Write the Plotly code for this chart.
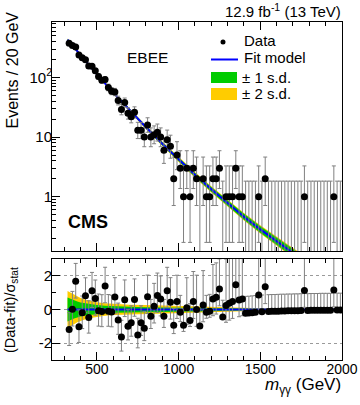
import math
import plotly.graph_objects as go

# ---------------- data ----------------
mass = list(range(330, 2000, 20))  # 20 GeV bin centres, 320-2000 GeV

counts = [374, 343, 323, 237, 215, 199, 156, 154, 129, 104,
          90, 92, 68, 59, 57, 41, 29, 38, 25, 22,
          26, 13, 13, 10, 16, 10, 11, 12, 10, 6,
          9, 7, 2, 5, 3, 1, 3, 1, 3, 2,
          0, 2, 1, 1, 2, 2, 3, 0, 1, 1,
          1, 3, 1, 1, 0, 0, 0, 0, 1, 0,
          2, 0, 0, 0, 0, 0, 0, 0, 0, 0,
          0, 0, 1, 0, 0, 0, 0, 0, 0, 0,
          0, 1, 0, 0]

pulls = [-1.19, 0.02, 1.68, -1.02, -0.20, 0.81, -0.48, 1.12, 0.66, -0.08,
         -0.12, 1.40, -0.11, -0.15, 0.75, -0.62, -1.64, 0.58, -0.99, -0.78,
         0.60, -1.52, -0.78, -1.12, 0.76, -0.40, 0.20, 0.83, 0.62, -0.40,
         1.11, 0.43, -0.94, 0.47, -0.16, -0.94, 0.10, -0.65, 0.47, 0.00,
         -0.98, 0.27, -0.16, -0.10, 0.63, 0.73, 1.22, -0.45, 0.24, 0.37,
         0.47, 1.47, 0.57, 0.63, -0.22, -0.21, -0.19, -0.17, 0.86, -0.14,
         1.35, -0.12, -0.11, -0.11, -0.10, -0.09, -0.09, -0.08, -0.08, -0.07,
         -0.07, -0.06, 1.13, -0.06, -0.05, -0.05, -0.05, -0.04, -0.04, -0.04,
         -0.04, 1.16, -0.03, -0.03]

fit_mass = [320, 400, 500, 600, 700, 800, 900, 1000, 1100, 1200,
            1300, 1400, 1500, 1600, 1700, 1800, 1900, 2000]
fit_vals = [430, 236, 113, 55.8, 28.2, 14.6, 7.73, 4.20, 2.33, 1.33,
            0.774, 0.462, 0.283, 0.177, 0.114, 0.075, 0.050, 0.035]
# half widths of the fit bands in the upper panel (decades)
fit_band1 = [0.012, 0.012, 0.014, 0.016, 0.020, 0.024, 0.028, 0.032, 0.036, 0.040,
             0.045, 0.050, 0.055, 0.060, 0.065, 0.070, 0.075, 0.080]
fit_band2 = [0.018, 0.018, 0.020, 0.022, 0.027, 0.032, 0.037, 0.042, 0.047, 0.052,
             0.058, 0.064, 0.070, 0.076, 0.082, 0.088, 0.094, 0.100]

# fit bands in the pull panel (units of sigma_stat)
band_mass = [320, 340, 360, 380, 400, 430, 460, 500, 550, 600, 700,
             800, 900, 1000, 1100, 1200, 1300, 1400, 1500, 1700, 2000]
pull_band2 = [1.10, 1.00, 0.88, 0.76, 0.68, 0.58, 0.50, 0.43, 0.37, 0.33, 0.28,
              0.26, 0.24, 0.22, 0.19, 0.16, 0.13, 0.10, 0.07, 0.05, 0.04]
pull_band1 = [0.72, 0.62, 0.54, 0.47, 0.42, 0.36, 0.31, 0.26, 0.22, 0.19, 0.16,
              0.14, 0.13, 0.12, 0.11, 0.10, 0.08, 0.06, 0.04, 0.03, 0.02]

x_ticks = [500, 1000, 1500, 2000]

# ---------------- helpers ----------------
def pois_lo(n):
    if n == 0:
        return 0.0
    return n - n * (1 - 1 / (9 * n) - 1 / (3 * math.sqrt(n))) ** 3


def pois_hi(n):
    m = n + 1
    return m * (1 - 1 / (9 * m) + 1 / (3 * math.sqrt(m))) ** 3 - n


W, H = 360, 405
ML, MR, MT, MB = 52, 18, 22, 45
PW, PH = W - ML - MR, H - MT - MB


def px2x(px):
    return (px - ML) / PW


def py2y(py):
    return (H - MB - py) / PH


GREEN = "#00cc00"
YELLOW = "#ffcc00"
BLUE = "#0000ff"
ERRC = "#808080"
FONT = "Liberation Sans, Arial, Helvetica, sans-serif"

fig = go.Figure()


def band_poly(xs, centre, hw, log=True):
    if log:
        up = [c * 10 ** w for c, w in zip(centre, hw)]
        dn = [c * 10 ** (-w) for c, w in zip(centre, hw)]
    else:
        up = [c + w for c, w in zip(centre, hw)]
        dn = [c - w for c, w in zip(centre, hw)]
    return xs + xs[::-1], up + dn[::-1]


# ---------------- upper panel ----------------
bx, by = band_poly(fit_mass, fit_vals, fit_band2)
fig.add_trace(go.Scatter(x=bx, y=by, fill="toself", fillcolor=YELLOW, line=dict(width=0),
                         mode="lines", xaxis="x", yaxis="y", hoverinfo="skip"))
bx, by = band_poly(fit_mass, fit_vals, fit_band1)
fig.add_trace(go.Scatter(x=bx, y=by, fill="toself", fillcolor=GREEN, line=dict(width=0),
                         mode="lines", xaxis="x", yaxis="y", hoverinfo="skip"))
fig.add_trace(go.Scatter(x=fit_mass, y=fit_vals, mode="lines", line=dict(color=BLUE, width=2),
                         xaxis="x", yaxis="y"))

# zero-count bins: only the upper Poisson error bar
zx = [m for m, n in zip(mass, counts) if n == 0]
zhi = [pois_hi(0) for m, n in zip(mass, counts) if n == 0]
fig.add_trace(go.Scatter(x=zx, y=zhi, mode="markers", marker=dict(size=1, opacity=0),
                         error_y=dict(type="data", symmetric=False, array=[0] * len(zx),
                                      arrayminus=zhi, color=ERRC, thickness=1, width=2),
                         xaxis="x", yaxis="y"))

nx = [m for m, n in zip(mass, counts) if n > 0]
ny = [n for n in counts if n > 0]
fig.add_trace(go.Scatter(x=nx, y=ny, mode="markers",
                         marker=dict(size=7, color="black"),
                         error_y=dict(type="data", symmetric=False,
                                      array=[pois_hi(n) for n in ny],
                                      arrayminus=[pois_lo(n) for n in ny],
                                      color=ERRC, thickness=1, width=2),
                         xaxis="x", yaxis="y"))

# ---------------- lower panel ----------------
bx, by = band_poly(band_mass, [0] * len(band_mass), pull_band2, log=False)
fig.add_trace(go.Scatter(x=bx, y=by, fill="toself", fillcolor=YELLOW, line=dict(width=0),
                         mode="lines", xaxis="x2", yaxis="y2", hoverinfo="skip"))
bx, by = band_poly(band_mass, [0] * len(band_mass), pull_band1, log=False)
fig.add_trace(go.Scatter(x=bx, y=by, fill="toself", fillcolor=GREEN, line=dict(width=0),
                         mode="lines", xaxis="x2", yaxis="y2", hoverinfo="skip"))
fig.add_trace(go.Scatter(x=band_mass, y=[0] * len(band_mass), mode="lines",
                         line=dict(color=BLUE, width=2), xaxis="x2", yaxis="y2"))

up, dn = [], []
for n, p in zip(counts, pulls):
    lo, hi = pois_lo(n), pois_hi(n)
    if p >= 0 and n > 0:
        up.append(hi / lo)
        dn.append(1.0)
    else:
        up.append(1.0)
        dn.append(lo / hi)
fig.add_trace(go.Scatter(x=mass, y=pulls, mode="markers",
                         marker=dict(size=7, color="black"),
                         error_y=dict(type="data", symmetric=False, array=up, arrayminus=dn,
                                      color=ERRC, thickness=1, width=2),
                         xaxis="x2", yaxis="y2"))

# ---------------- axes ----------------
XR = [225, 2000]
top_dom = [py2y(251), 1.0]
bot_dom = [0.0, py2y(259)]
minor_log = [v * s for s in (0.1, 1, 10, 100) for v in range(2, 10)]

common_x = dict(range=XR, showline=True, linecolor="black", linewidth=1, mirror="ticks",
                ticks="inside", ticklen=8, tickcolor="black", tickvals=x_ticks,
                minor=dict(dtick=100, ticks="inside", ticklen=4, tickcolor="black"),
                showgrid=False, zeroline=False)

fig.update_layout(
    width=W, height=H,
    margin=dict(l=ML, r=MR, t=MT, b=MB, pad=0, autoexpand=False),
    paper_bgcolor="white", plot_bgcolor="white",
    showlegend=False,
    font=dict(family=FONT, color="black", size=14),
    xaxis=dict(**common_x, domain=[0, 1], anchor="y", showticklabels=False, matches="x2"),
    yaxis=dict(type="log", domain=top_dom, anchor="x", range=[-0.91, 2.93],
               tickvals=[1, 10, 100], ticktext=["1", "10", "10<sup>2</sup>"],
               tickfont=dict(size=15), ticklabelstandoff=-4,
               ticks="inside", ticklen=8, tickcolor="black",
               minor=dict(tickvals=minor_log, ticks="inside", ticklen=4, tickcolor="black"),
               showline=True, linecolor="black", linewidth=1, mirror=True,
               showgrid=False, zeroline=False),
    xaxis2=dict(**common_x, domain=[0, 1], anchor="y2", showticklabels=True,
                tickfont=dict(size=14), ticklabelstandoff=-4),
    yaxis2=dict(domain=bot_dom, anchor="x2", range=[-3, 3],
                tickvals=[-2, 0, 2], ticktext=["-2", "0", "2"], tickfont=dict(size=15),
                ticklabelstandoff=-4,
                ticks="inside", ticklen=8, tickcolor="black",
                minor=dict(dtick=1, ticks="inside", ticklen=4, tickcolor="black"),
                showline=True, linecolor="black", linewidth=1, mirror=True,
                showgrid=True, gridcolor="#9a9a9a", griddash="dot", gridwidth=1,
                zeroline=False),
)

# ---------------- text ----------------
ann = [
    dict(text="12.9 fb<sup>-1</sup> (13 TeV)", x=px2x(343), y=py2y(11),
         xanchor="right", yanchor="middle", font=dict(size=15)),
    dict(text="EBEE", x=px2x(125), y=py2y(58), xanchor="left", yanchor="middle",
         font=dict(size=15.5)),
    dict(text="<b>CMS</b>", x=px2x(66), y=py2y(222), xanchor="left", yanchor="middle",
         font=dict(size=18)),
    dict(text="Events / 20 GeV", x=px2x(12.5), y=py2y(70), textangle=-90,
         xanchor="center", yanchor="middle", font=dict(size=16)),
    dict(text="(Data-fit)/σ<sub>stat</sub>", x=px2x(11), y=py2y(310), textangle=-90,
         xanchor="center", yanchor="middle", font=dict(size=14.5)),
    dict(text="<i>m</i><sub>γγ</sub> (GeV)", x=px2x(343), y=py2y(386),
         xanchor="right", yanchor="middle", font=dict(size=17)),
    dict(text="Data", x=px2x(242), y=py2y(40), xanchor="left", yanchor="middle",
         font=dict(size=15)),
    dict(text="Fit model", x=px2x(242), y=py2y(58), xanchor="left", yanchor="middle",
         font=dict(size=15)),
    dict(text="± 1 s.d.", x=px2x(240), y=py2y(77.5), xanchor="left", yanchor="middle",
         font=dict(size=15)),
    dict(text="± 2 s.d.", x=px2x(240), y=py2y(94), xanchor="left", yanchor="middle",
         font=dict(size=15)),
]
for a in ann:
    a.update(xref="paper", yref="paper", showarrow=False)
fig.update_layout(annotations=ann)

shapes = [
    dict(type="circle", x0=px2x(220.5), x1=px2x(225.5), y0=py2y(44.5), y1=py2y(39.5),
         fillcolor="black", line=dict(width=0)),
    dict(type="line", x0=px2x(211), x1=px2x(238), y0=py2y(59.5), y1=py2y(59.5),
         line=dict(color=BLUE, width=2)),
    dict(type="rect", x0=px2x(211), x1=px2x(237), y0=py2y(83), y1=py2y(72),
         fillcolor=GREEN, line=dict(width=0)),
    dict(type="rect", x0=px2x(211), x1=px2x(237), y0=py2y(100), y1=py2y(88),
         fillcolor=YELLOW, line=dict(width=0)),
]
for s in shapes:
    s.update(xref="paper", yref="paper")
fig.update_layout(shapes=shapes)

# the page body has a default 8px margin; remove it so the figure fills the window
fig.write_html("out.html", config={"displayModeBar": False},
               post_script="document.body.style.margin='0px';")
